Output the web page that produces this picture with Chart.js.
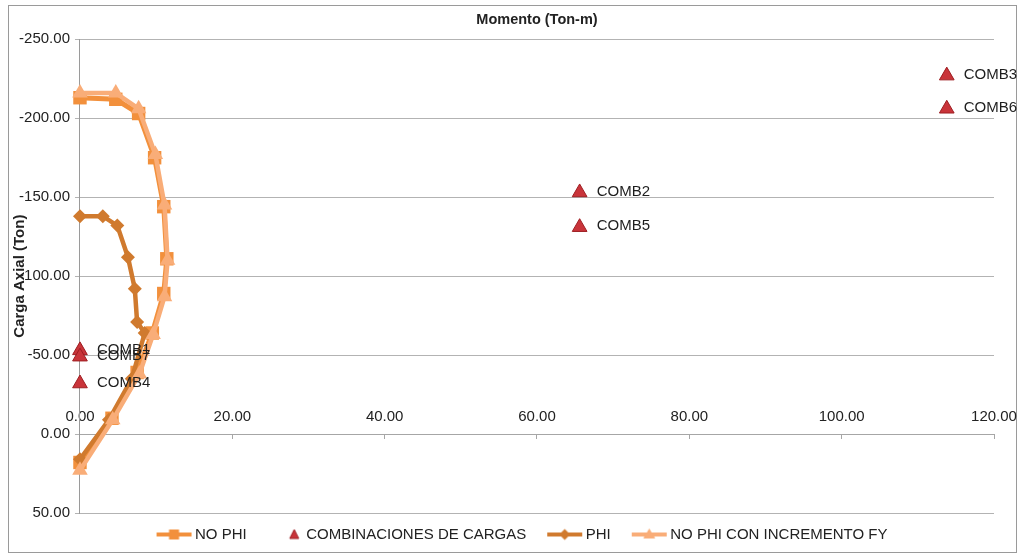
<!DOCTYPE html>
<html>
<head>
<meta charset="utf-8">
<script src="https://cdn.jsdelivr.net/npm/chart.js@4.4.0/dist/chart.umd.min.js"></script>
<style>
  body { margin: 0; background: #fff; }
  #frame { position: absolute; left: 8px; top: 5px; width: 1007px; height: 546px; border: 1px solid #9a9a9a; }
  #chart { position: absolute; left: 0; top: 0; }
</style>
</head>
<body>
<div id="frame"></div>
<canvas id="chart" width="1018" height="556"></canvas>
<script>
// Momento (Ton-m) vs Carga Axial (Ton)
const noPhiM = [0, 4.7, 7.7, 9.8, 11.0, 11.4, 11.0, 9.5, 7.5, 4.2, 0];
const noPhiP = [-213, -212, -203, -175, -144, -111, -89, -64, -39, -10, 18];

const phiM = [0, 3.0, 4.9, 6.3, 7.2, 7.5, 8.5, 6.8, 3.8, 0];
const phiP = [-138, -138, -132, -112, -92, -71, -64, -35, -9, 16];

const incM = [0, 4.7, 7.7, 9.9, 11.1, 11.5, 11.1, 9.6, 7.8, 4.3, 0];
const incP = [-216, -216, -206, -177, -145, -110, -87, -63, -38, -9, 23];

const combNames = ['COMB1', 'COMB2', 'COMB3', 'COMB4', 'COMB5', 'COMB6', 'COMB7'];
const combM = [0, 65.6, 113.8, 0, 65.6, 113.8, 0];
const combP = [-53, -153, -227, -32, -131, -206, -49];

const seriesNames = ['NO PHI', 'COMBINACIONES DE CARGAS', 'PHI', 'NO PHI CON INCREMENTO FY'];

const C_NOPHI = '#f2903c';
const C_PHI = '#d07a2e';
const C_INC = '#f9ad78';
const C_COMB = '#c9343a';

const pts = (xs, ys) => xs.map((x, i) => ({x, y: ys[i]}));

// legend icons: line with marker, like the spreadsheet legend
function icon(color, shape) {
  const c = document.createElement('canvas');
  c.width = 50; c.height = 16;
  const g = c.getContext('2d');
  if (shape !== 'comb') {
    g.strokeStyle = color; g.lineWidth = 4;
    g.beginPath(); g.moveTo(13, 8); g.lineTo(48, 8); g.stroke();
  }
  g.fillStyle = color;
  g.beginPath();
  if (shape === 'rect') g.rect(25.5, 3, 10, 10);
  if (shape === 'diamond') { g.moveTo(30.5, 2.5); g.lineTo(36, 8); g.lineTo(30.5, 13.5); g.lineTo(25, 8); }
  if (shape === 'tri') { g.moveTo(30.5, 2); g.lineTo(36.5, 12); g.lineTo(24.5, 12); }
  if (shape === 'comb') { g.moveTo(39.5, 3); g.lineTo(44, 12); g.lineTo(35, 12); g.strokeStyle = '#9e1e22'; g.lineWidth = 1; }
  g.closePath(); g.fill();
  if (shape === 'comb') g.stroke();
  return c;
}
const icons = [icon(C_NOPHI, 'rect'), icon(C_COMB, 'comb'), icon(C_PHI, 'diamond'), icon(C_INC, 'tri')];

const combLabels = {
  id: 'combLabels',
  afterDatasetsDraw(chart) {
    const ctx = chart.ctx;
    const meta = chart.getDatasetMeta(1);
    ctx.save();
    ctx.font = '15px "Liberation Sans", Arial, sans-serif';
    ctx.fillStyle = '#1e1e1e';
    ctx.textBaseline = 'middle';
    meta.data.forEach((p, i) => ctx.fillText(combNames[i], p.x + 17, p.y - 1));
    ctx.restore();
  }
};

// legend sits a little right of the page centre in the original
const shiftLegend = {
  id: 'shiftLegend',
  afterLayout(chart) { chart.legend.left += 28; }
};

Chart.defaults.font.family = '"Liberation Sans", Arial, sans-serif';
Chart.defaults.color = '#222';

new Chart(document.getElementById('chart'), {
  type: 'scatter',
  data: {
    datasets: [
      {
        label: seriesNames[0],
        data: pts(noPhiM, noPhiP),
        showLine: true, borderColor: C_NOPHI, backgroundColor: C_NOPHI, borderWidth: 5,
        pointStyle: 'rect', pointRadius: 9.5, pointBorderWidth: 0, order: 4, clip: false
      },
      {
        label: seriesNames[1],
        data: pts(combM, combP),
        showLine: false, borderColor: '#9e1e22', backgroundColor: C_COMB, borderWidth: 1,
        pointStyle: 'triangle', pointRadius: 8.5, pointBorderWidth: 1, order: 3, clip: false
      },
      {
        label: seriesNames[2],
        data: pts(phiM, phiP),
        showLine: true, borderColor: C_PHI, backgroundColor: C_PHI, borderWidth: 4.5,
        pointStyle: 'rectRot', pointRadius: 7, pointBorderWidth: 0, order: 2, clip: false
      },
      {
        label: seriesNames[3],
        data: pts(incM, incP),
        showLine: true, borderColor: C_INC, backgroundColor: C_INC, borderWidth: 4.5,
        pointStyle: 'triangle', pointRadius: 9, pointBorderWidth: 0, order: 1, clip: false
      }
    ]
  },
  options: {
    responsive: false,
    animation: false,
    devicePixelRatio: 1,
    layout: { padding: { left: 15, right: 24, top: 0, bottom: 4 } },
    scales: {
      x: {
        type: 'linear', position: { y: 0 },
        min: 0, max: 120,
        grid: { drawOnChartArea: false, drawTicks: true, tickLength: 4, color: '#a6a6a6' },
        border: { display: true, color: '#a6a6a6' },
        ticks: { stepSize: 20, padding: -30, font: { size: 15 }, callback: v => v.toFixed(2) }
      },
      xTitle: {
        type: 'linear', position: 'top', display: true, min: 0, max: 1,
        grid: { display: false, drawTicks: false }, border: { display: false }, ticks: { display: false },
        title: { display: true, text: 'Momento (Ton-m)', font: { size: 14.5, weight: 'bold' }, padding: { top: 11.3, bottom: 10.6 } }
      },
      y: {
        type: 'linear', position: 'left', reverse: true,
        min: -250, max: 50,
        grid: { color: '#b3b3b3', tickLength: 5 },
        border: { color: '#9a9a9a' },
        ticks: { stepSize: 50, padding: 5, font: { size: 15 }, callback: v => v.toFixed(2) },
        title: { display: true, text: 'Carga Axial (Ton)', font: { size: 15, weight: 'bold' }, padding: { top: -4, bottom: -14.9 } }
      }
    },
    plugins: {
      legend: {
        position: 'bottom',
        labels: {
          usePointStyle: true, pointStyleWidth: 38, padding: 14,
          font: { size: 15 }, color: '#222',
          sort: (a, b) => a.datasetIndex - b.datasetIndex,
          generateLabels(chart) {
            const items = Chart.defaults.plugins.legend.labels.generateLabels(chart);
            items.forEach(it => { it.pointStyle = icons[it.datasetIndex]; });
            return items;
          }
        }
      },
      tooltip: { enabled: false }
    }
  },
  plugins: [combLabels, shiftLegend]
});
</script>
</body>
</html>
